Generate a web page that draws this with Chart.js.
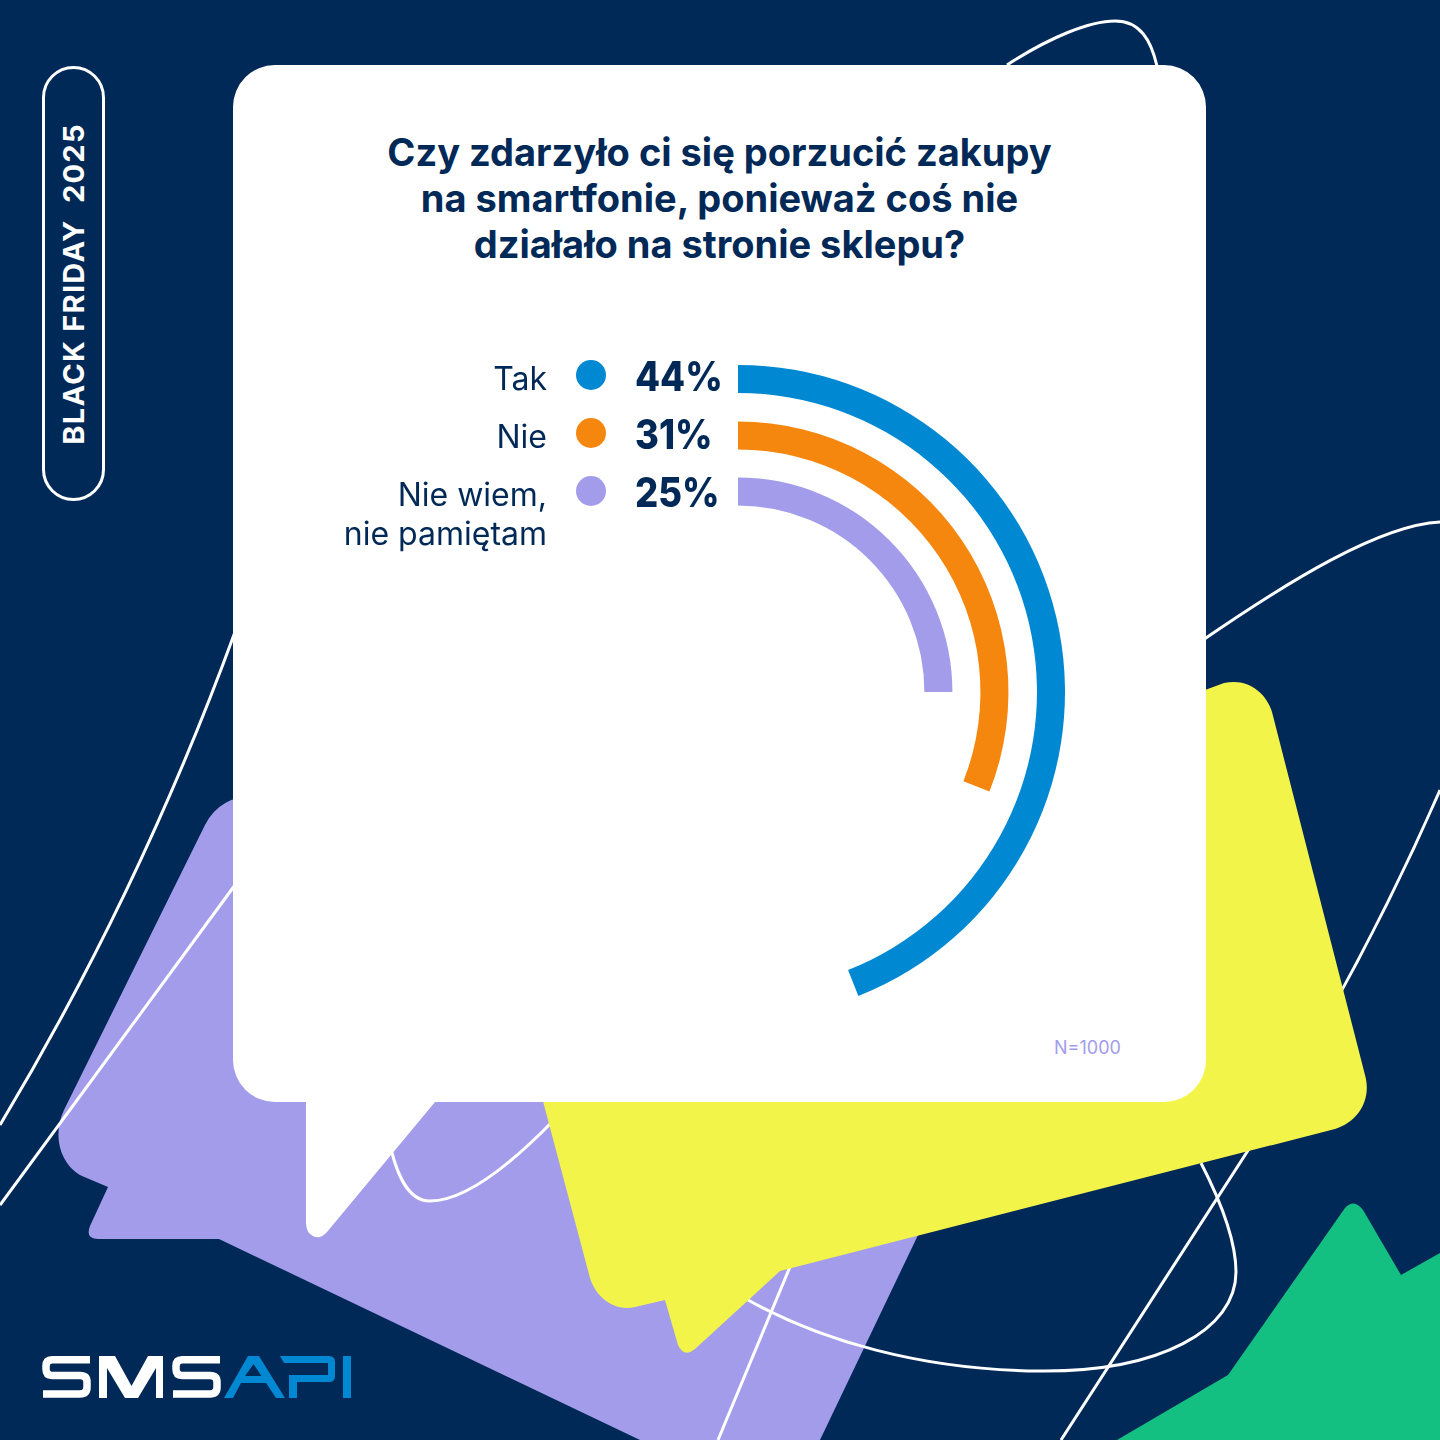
<!DOCTYPE html>
<html lang="pl"><head><meta charset="utf-8">
<script src="https://cdn.jsdelivr.net/npm/chart.js@4"></script>
<style>
html,body{margin:0;padding:0;background:#012957}
#page{position:relative;width:1440px;height:1440px;overflow:hidden;background:#012957;font-family:Inter,sans-serif;color:#012957}
#page svg{position:absolute;left:0;top:0}
.t{position:absolute;white-space:nowrap}
#title{left:233px;width:973px;top:129px;text-align:center;font-weight:700;font-size:38px;line-height:46px}
#chart{position:absolute;left:411px;top:365px}
.lab{text-align:right;right:893px;font-size:32px;line-height:39px;font-weight:400}
.val{left:634.5px;font-size:41px;line-height:50px;font-weight:800;transform:scaleX(.89);transform-origin:0 50%}
.dot{position:absolute;left:576px;width:30px;height:30px;border-radius:50%}
#n{left:1054px;top:1037px;font-size:18px;line-height:22px;color:#A39CEB}
#bf{left:74px;top:284px;transform:translate(-50%,-50%) rotate(-90deg);font-size:29px;line-height:32px;font-weight:700;letter-spacing:1.3px;color:#fff;white-space:pre}
</style></head><body>
<div id="page">
<svg width="1440" height="1440" viewBox="0 0 1440 1440">
 <path fill="#A39CEB" d="M260,795 Q220,795 205,825 L64,1110 C52,1135 60,1165 82,1176 L108,1187 L90,1226 Q85,1239 98,1239 L219,1239 L640,1440 L820,1440 L930,1210 L900,800 Z"/>
 <g fill="none" stroke="#fff" stroke-width="3">
  <path d="M0,1125 C90,975 170,810 235,632"/>
  <path d="M1007,65 C1050,37 1090,21 1115,21 C1140,21 1151,40 1157,66"/>
  <path d="M0,1205 L235,885"/>
  <path d="M387,1130 C395,1175 408,1201 430,1201 C465,1201 510,1165 552,1122"/>
  <path d="M1200,642 C1290,580 1380,525 1440,522"/>
  <path d="M1201,1163 C1220,1200 1236,1240 1236,1272 C1236,1330 1160,1372 1040,1371 C920,1370 820,1340 748,1300"/>
  <path d="M1440,790 C1390,905 1330,1020 1247,1152 L1061,1440"/>
  <path d="M792,1262 L718,1440"/>
 </g>
 <path fill="#F3F44A" d="M1234,682 C1252,682 1267,695 1272,712 L1365,1075 C1372,1100 1358,1122 1335,1129 L780,1271 L695,1349 Q684,1358 678,1345 L665,1300 L635,1307 C612,1312 595,1295 590,1278 L540,1090 L800,800 L1205,690 L1224,683 Q1229,682 1234,682 Z"/>
 <path fill="#13C081" d="M1117,1440 L1228,1375 L1345,1208 Q1354,1198 1363,1210 L1401,1275 L1440,1253 L1440,1440 Z"/>
 <path fill="#fff" d="M275,65 H1164 A42,42 0 0 1 1206,107 V1060 A42,42 0 0 1 1164,1102 H435 L327,1232 Q318,1242 309,1233 Q306,1229 306,1222 V1102 H275 A42,42 0 0 1 233,1060 V107 A42,42 0 0 1 275,65 Z"/>
 <rect x="43.5" y="67.5" width="60" height="432" rx="30" ry="30" fill="none" stroke="#fff" stroke-width="3"/>
 <g fill="none" stroke="#fff" stroke-width="7.5">
  <path d="M90,1359.7 H52 Q46,1359.7 46,1366 V1369 Q46,1375.5 52,1375.5 H80 Q87,1375.5 87,1382 V1387 Q87,1394 80,1394 H43"/>
  <path d="M220,1359.7 H182 Q176,1359.7 176,1366 V1369 Q176,1375.5 182,1375.5 H210 Q217,1375.5 217,1382 V1387 Q217,1394 210,1394 H173"/>
 </g>
 <path fill="#fff" d="M99,1398 V1356 H115 L131.5,1386 L148,1356 H163 V1398 H156 V1368 L138,1398 H125 L107,1368 V1398 Z"/>
 <path fill="#0089D2" d="M224,1398 L248,1356 H259 L285,1398 H276 L253.5,1364 L245,1376 H263 L266,1383 H241 L233,1398 Z"/>
 <path fill="#0089D2" d="M280,1356 H329 Q335,1356 335,1362 V1376 Q335,1382 329,1382 H297 V1398 H289 V1375 H328 V1363 H284 Z"/>
 <rect x="343" y="1356" width="8" height="42" fill="#0089D2"/>
</svg>
<div class="t" id="bf">BLACK FRIDAY  2025</div>
<div class="t" id="title"></div>
<canvas id="chart" width="654" height="654"></canvas>
<div class="t" id="n">N=1000</div>
</div>
<script>
const titleLines = ["Czy zdarzyło ci się porzucić zakupy", "na smartfonie, ponieważ coś nie", "działało na stronie sklepu?"];
const categories = ["Tak", "Nie", "Nie wiem,\nnie pamiętam"];
const values = [44, 31, 25];
const colors = ["#0089D2", "#F6870E", "#A39CEB"];
const valueLabels = ["44%", "31%", "25%"];
const rowTops = [351, 409, 467];

const page = document.getElementById('page');
document.getElementById('title').innerHTML = titleLines.join('<br>');
categories.forEach((c, i) => {
  const lab = document.createElement('div');
  lab.className = 't lab';
  lab.style.top = (rowTops[i] + 8) + 'px';
  lab.innerHTML = c.replace('\n', '<br>');
  page.appendChild(lab);
  const dot = document.createElement('div');
  dot.className = 'dot';
  dot.style.top = (rowTops[i] + 9) + 'px';
  dot.style.background = colors[i];
  page.appendChild(dot);
  const val = document.createElement('div');
  val.className = 't val';
  val.style.top = rowTops[i] + 'px';
  val.textContent = valueLabels[i];
  page.appendChild(val);
});

const ring = (i) => ({
  label: categories[i].replace('\n', ' '),
  data: [values[i], 100 - values[i]],
  backgroundColor: [colors[i], 'rgba(0,0,0,0)'],
  borderWidth: 0,
  weight: 28
});
const gap = (w) => ({ label: '', data: [100], backgroundColor: ['rgba(0,0,0,0)'], borderWidth: 0, weight: w });

new Chart(document.getElementById('chart'), {
  type: 'doughnut',
  data: {
    labels: [categories[0], 'reszta'],
    datasets: [ring(0), gap(28.5), ring(1), gap(28), ring(2)]
  },
  options: {
    responsive: false,
    animation: false,
    devicePixelRatio: 1,
    cutout: '57%',
    layout: { padding: 0 },
    plugins: { legend: { display: false }, tooltip: { enabled: false }, title: { display: false } }
  }
});
</script>
</body></html>
